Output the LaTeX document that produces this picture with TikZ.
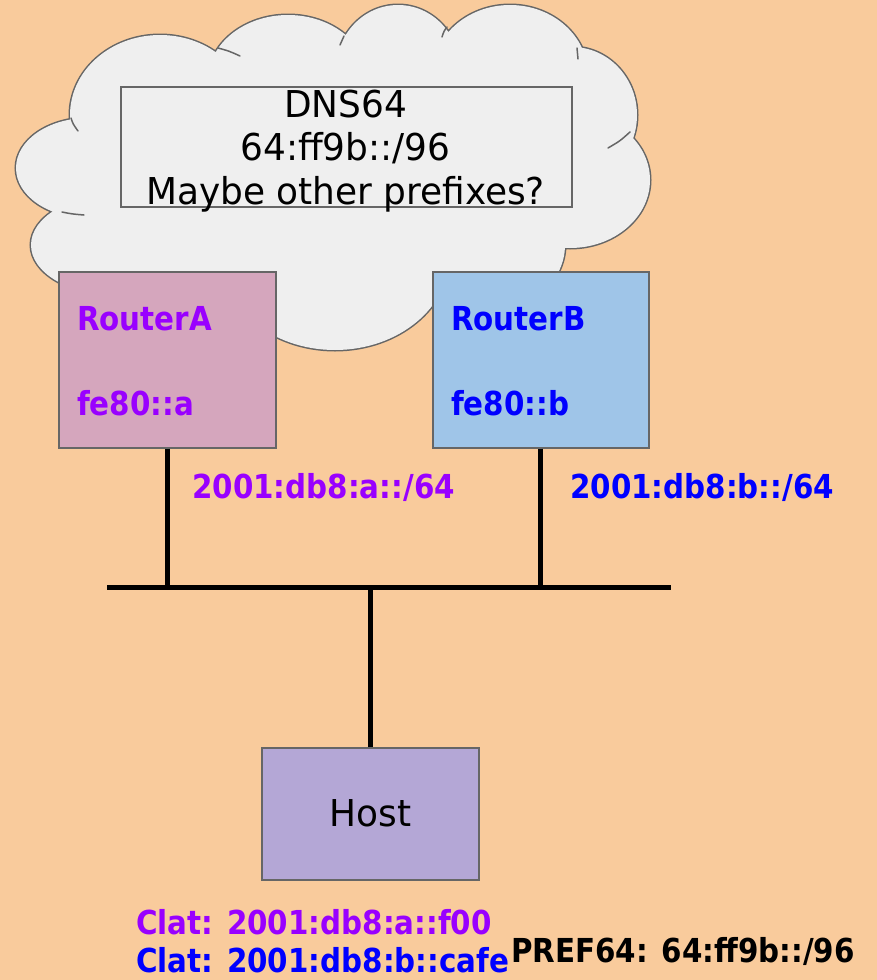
\documentclass[tikz,border=0pt]{standalone}
\usepackage{fontspec}
\setmainfont{DejaVu Sans}[FakeStretch=0.97]
\newfontfamily\condfont{DejaVu Sans}[FakeStretch=0.89]
\definecolor{peach}{HTML}{F9CB9C}
\definecolor{cloudgray}{HTML}{EFEFEF}
\definecolor{edgegray}{HTML}{666666}
\definecolor{rafill}{HTML}{D5A6BD}
\definecolor{rbfill}{HTML}{9FC5E8}
\definecolor{hostfill}{HTML}{B4A7D6}
\definecolor{purpletxt}{HTML}{9900FF}
\definecolor{bluetxt}{HTML}{0000FF}
\tikzset{
  boxst/.style={draw=edgegray, line width=1.5pt, inner sep=0pt, rectangle},
  boldlbl/.style={font=\condfont\fontsize{33}{38}\selectfont\bfseries, inner sep=0pt},
  reglbl/.style={font=\fontsize{37}{43}\selectfont, inner sep=0pt},
  wire/.style={line width=5pt, black},
  tail/.style={draw=edgegray, line width=1.5pt, line cap=round},
  cloudparts/.pic={
    \path (160,115) ellipse [x radius=90pt, y radius=80pt]
          (288,80)  ellipse [x radius=80pt, y radius=65pt]
          (398,70)  ellipse [x radius=62pt, y radius=65pt]
          (510,75)  ellipse [x radius=78pt, y radius=70pt]
          (572,115) ellipse [x radius=65pt, y radius=68pt]
          (570,180) ellipse [x radius=80pt, y radius=68pt]
          (88,168)  ellipse [x radius=72pt, y radius=50pt]
          (115,245) ellipse [x radius=84pt, y radius=50pt]
          (335,255) ellipse [x radius=115pt, y radius=95pt]
          (480,245) ellipse [x radius=85pt, y radius=70pt]
          (340,180) ellipse [x radius=240pt, y radius=120pt];
  }
}
\begin{document}
\begin{tikzpicture}[x=1pt,y=-1pt]
  % page
  \fill[peach] (0,0) rectangle (877,980);
  \useasboundingbox (0,0) rectangle (877,980);

  % cloud: outlines first, then the fill hides the inner halves
  \begin{scope}[every path/.style={draw=edgegray, line width=3pt}]
    \pic {cloudparts};
  \end{scope}
  \begin{scope}[every path/.style={fill=cloudgray}]
    \pic {cloudparts};
  \end{scope}
  % short inner ends of the cloud arcs
  \coordinate (t1a) at (71,118); \coordinate (t1b) at (78,131);
  \coordinate (t2a) at (62,212); \coordinate (t2b) at (84,215);
  \coordinate (t3a) at (218,48); \coordinate (t3b) at (240,56);
  \coordinate (t4a) at (344,36); \coordinate (t4b) at (340,45);
  \coordinate (t5a) at (447,27); \coordinate (t5b) at (442,37);
  \coordinate (t6a) at (577,48); \coordinate (t6b) at (578,59);
  \coordinate (t7a) at (630,132); \coordinate (t7b) at (608,148);
  \draw[tail] (t1a) .. controls (73,124) .. (t1b);
  \draw[tail] (t2a) .. controls (72,214) .. (t2b);
  \draw[tail] (t3a) .. controls (229,51) .. (t3b);
  \draw[tail] (t4a) .. controls (342,40) .. (t4b);
  \draw[tail] (t5a) .. controls (444,31) .. (t5b);
  \draw[tail] (t6a) .. controls (578,53) .. (t6b);
  \draw[tail] (t7a) .. controls (620,141) .. (t7b);

  % DNS64 box inside the cloud
  \node[boxst, fill=cloudgray, minimum width=451pt, minimum height=120pt, anchor=north west]
       (dns) at (120,86) {};
  \node[reglbl, anchor=base] (dns1) at (345.5,117) {DNS64};
  \node[reglbl, anchor=base] (dns2) at (345.5,160) {64:ff9b::/96};
  \node[reglbl, anchor=base] (dns3) at (345.5,204) {Maybe other prefixes?};

  % routers
  \node[boxst, fill=rafill, minimum width=217pt, minimum height=176pt, anchor=north west]
       (ra) at (58,271) {};
  \node[boxst, fill=rbfill, minimum width=216pt, minimum height=176pt, anchor=north west]
       (rb) at (432,271) {};
  \node[boldlbl, text=purpletxt, anchor=base west] (raname) at (77,330) {RouterA};
  \node[boldlbl, text=purpletxt, anchor=base west] (raaddr) at (77,415) {fe80::a};
  \node[boldlbl, text=bluetxt, anchor=base west] (rbname) at (451,330) {RouterB};
  \node[boldlbl, text=bluetxt, anchor=base west] (rbaddr) at (451,415) {fe80::b};

  % host
  \node[boxst, fill=hostfill, minimum width=217pt, minimum height=132pt, anchor=north west]
       (host) at (261,747) {};
  \node[reglbl, anchor=center] (hostname) at (host.center) {Host};

  % link wiring
  \coordinate (busL) at (107,587);
  \coordinate (busR) at (671,587);
  \draw[wire] (busL) -- (busR);
  \draw[wire] (ra.south) -- (ra.south |- busL);
  \draw[wire] (rb.south) -- (rb.south |- busL);
  \draw[wire] (host.north) -- (host.north |- busL);

  % prefixes
  \node[boldlbl, text=purpletxt, anchor=base west] (pfxa) at (192,498) {2001:db8:a::/64};
  \node[boldlbl, text=bluetxt, anchor=base west] (pfxb) at (570,498) {2001:db8:b::/64};

  % host addresses
  \node[boldlbl, text=purpletxt, anchor=base west] (clata) at (136,934) {Clat: 2001:db8:a::f00};
  \node[boldlbl, text=bluetxt, anchor=base west] (clatb) at (136,972) {Clat: 2001:db8:b::cafe};
  \node[boldlbl, anchor=base west] (pref) at (511,962) {PREF64: 64:ff9b::/96};
\end{tikzpicture}
\end{document}
